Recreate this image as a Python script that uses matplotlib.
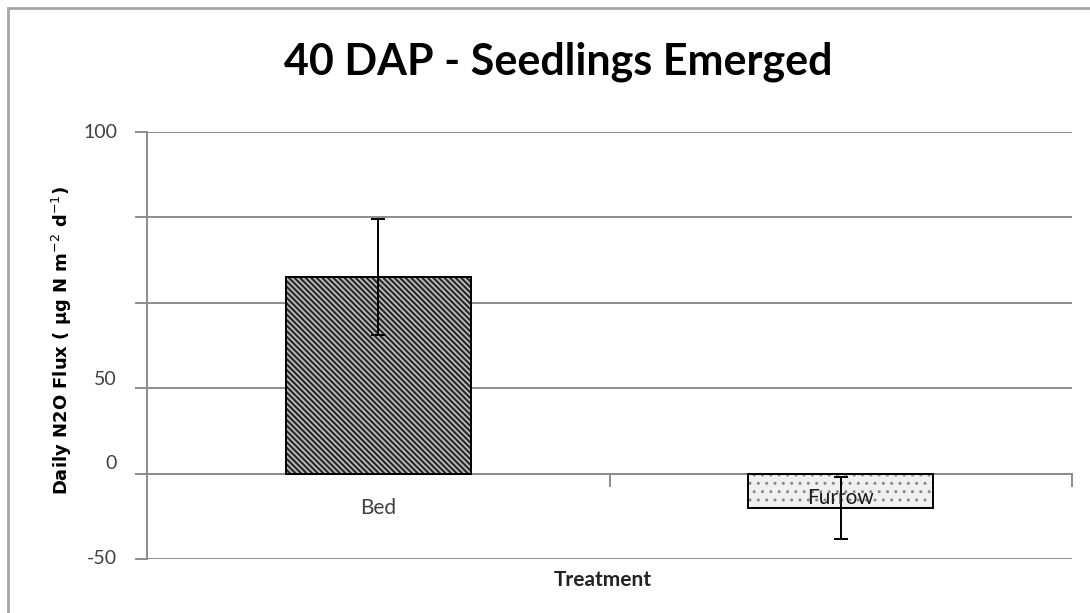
import matplotlib.pyplot as plt
from matplotlib.patches import Rectangle

# Treatment means and error
treatments = ["Bed", "Furrow"]
flux = [115, -20]
flux_err = [34, 18]

# y tick positions and the (odd) labels shown on the original
ytick_pos = [-50, 0, 50, 100, 150, 200]
ytick_labels = ["-50", "0", "50", "", "", "100"]

grid_col = "#8c8c8c"
text_col = "#404040"
plt.rcParams['font.family'] = ['Lato', 'DejaVu Sans']

fig = plt.figure(figsize=(10.9, 6.13), dpi=100)
ax = fig.add_axes([147 / 1090, 1 - 559 / 613, 925 / 1090, 427 / 613])

# outer chart frame
fig.patches.append(Rectangle((8 / 1090, -0.05), 1.1, 1 - 8 / 613 + 0.05,
                             transform=fig.transFigure, fill=False,
                             edgecolor="#a6a6a6", linewidth=2))

x = list(range(len(treatments)))
# hatch pass then outline pass
plt.rcParams['hatch.linewidth'] = 1.6
ax.bar(x[0], flux[0], width=0.4, color="#c4c4c4", edgecolor="#2a2a2a",
       hatch="\\\\\\\\\\\\", linewidth=0, zorder=3)
plt.rcParams['hatch.linewidth'] = 1.0
ax.bar(x[1], flux[1], width=0.4, color="#f0f0f0", edgecolor="#8a8a8a",
       hatch="..", linewidth=0, zorder=3)
ax.bar(x, flux, width=0.4, fill=False, edgecolor="black", linewidth=1.4, zorder=4)
ax.errorbar(x, flux, yerr=flux_err, fmt="none", ecolor="black",
            elinewidth=1.4, capsize=5, capthick=1.4, zorder=5)

ax.set_xlim(-0.5, 1.5)
ax.set_ylim(-50, 200)
ax.set_yticks(ytick_pos)
ax.set_yticklabels([])
ax.yaxis.grid(True, color=grid_col, linewidth=1.4, zorder=0)
ax.set_axisbelow(True)
ax.tick_params(axis="y", length=9, width=1.4, color=grid_col)

# tick labels drawn by hand: "0" and "50" sit a little above their lines
lift = {"0": 10, "50": 9}
for pos, lab in zip(ytick_pos, ytick_labels):
    ax.annotate(lab, xy=(0, pos), xycoords=ax.get_yaxis_transform(),
                xytext=(-30, lift.get(lab, 0)), textcoords="offset pixels",
                ha="right", va="center", fontsize=14, color=text_col)

# category axis sits on the zero line
ax.spines['bottom'].set_position(('data', 0))
ax.spines['bottom'].set_color(grid_col)
ax.spines['bottom'].set_linewidth(1.4)
ax.spines['left'].set_color(grid_col)
ax.spines['left'].set_linewidth(1.4)
ax.spines['top'].set_visible(False)
ax.spines['right'].set_visible(False)
ax.set_xticks(x)
ax.set_xticklabels([])
ax.set_xticks([0.5, 1.5], minor=True)
ax.tick_params(axis="x", which="major", length=0)
ax.tick_params(axis="x", which="minor", length=9, width=1.4, color=grid_col)

drop = {"Bed": -34, "Furrow": -24}
for xi, lab in zip(x, treatments):
    ax.annotate(lab, xy=(xi, 0), xytext=(0, drop[lab]), textcoords="offset pixels",
                ha="center", va="center", fontsize=15,
                color=text_col if lab == "Bed" else "#1a1a1a", zorder=6)

fig.text(603 / 1090, 1 - 580 / 613, "Treatment", ha="center", va="center",
         fontsize=15, fontweight="bold", color="#222222")
fig.text(62 / 1090, 1 - 340 / 613, "Daily N2O Flux ( \u03bcg N m$^{-2}$ d$^{-1}$)",
         rotation=90, ha="center", va="center", fontsize=13, fontweight="bold",
         color="black", family="DejaVu Sans")
fig.text(558 / 1090, 1 - 62 / 613, "40 DAP - Seedlings Emerged", ha="center",
         va="center", fontsize=31, fontweight="bold", color="black")

fig.savefig("out.png", dpi=100)
